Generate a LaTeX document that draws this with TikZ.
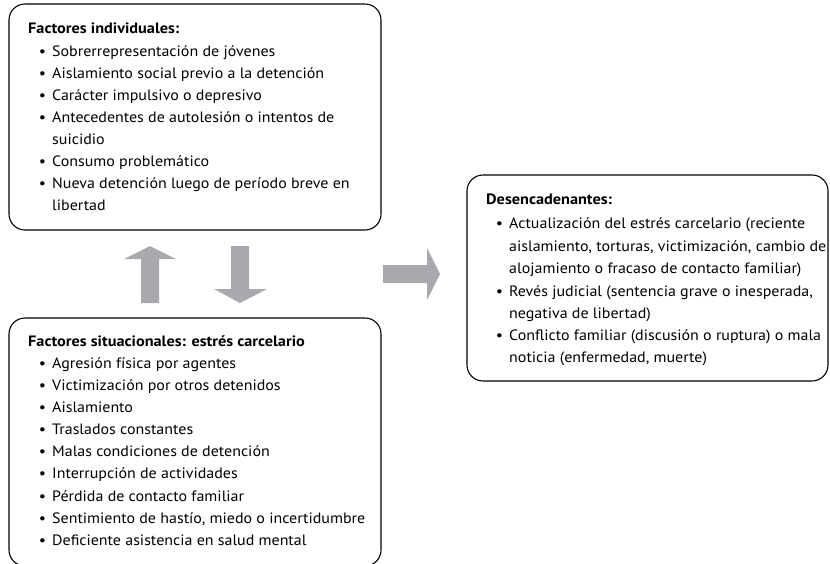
\documentclass[tikz,border=0pt]{standalone}
\usepackage{fontspec}
\setmainfont{PT Sans}
\newfontfamily\itemfont{PT Sans}[FakeStretch=1.065]
\newfontfamily\titlefont{PT Sans}[FakeStretch=1.085]
\definecolor{arrowgrey}{HTML}{A7A9AC}
\newcommand{\fsz}{\fontsize{15pt}{18pt}\selectfont}
\newcommand{\bul}{\llap{\textbullet\hspace{6pt}}}
\tikzset{
  box/.style={draw=black, line width=1.1pt, rounded corners=16pt, inner sep=0pt, fill=white},
  ttl/.style={anchor=base west, inner sep=0pt, font=\titlefont\fsz\bfseries},
  itm/.style={anchor=base west, inner sep=0pt, font=\itemfont\fsz},
  blockarrow/.style={fill=arrowgrey, draw=none}
}
\begin{document}
\begin{tikzpicture}[x=1pt,y=-1pt]
\useasboundingbox (0,0) rectangle (830,563);
% boxes
\node[box, minimum width=372pt, minimum height=226pt] (ind) at (195,117) {};
\node[box, minimum width=372pt, minimum height=248pt] (sit) at (195,442) {};
\node[box, minimum width=361pt, minimum height=206pt] (des) at (647.5,278) {};
% top box text
\node[ttl] (t1) at (28,33) {Factores individuales:};
\node[itm] (a1) at (52,56) {\bul Sobrerrepresentación de jóvenes};
\node[itm] (a2) at (52,78) {\bul Aislamiento social previo a la detención};
\node[itm] (a3) at (52,100) {\bul Carácter impulsivo o depresivo};
\node[itm] (a4) at (52,122) {\bul Antecedentes de autolesión o intentos de};
\node[itm] (a5) at (52,144) {suicidio};
\node[itm] (a6) at (52,166) {\bul Consumo problemático};
\node[itm] (a7) at (52,188) {\bul Nueva detención luego de período breve en};
\node[itm] (a8) at (52,210) {libertad};
% bottom box text
\node[ttl] (t2) at (28,346) {Factores situacionales: estrés carcelario};
\node[itm] (b1) at (52,368) {\bul Agresión física por agentes};
\node[itm] (b2) at (52,390) {\bul Victimización por otros detenidos};
\node[itm] (b3) at (52,412) {\bul Aislamiento};
\node[itm] (b4) at (52,434.5) {\bul Traslados constantes};
\node[itm] (b5) at (52,456.5) {\bul Malas condiciones de detención};
\node[itm] (b6) at (52,478.5) {\bul Interrupción de actividades};
\node[itm] (b7) at (52,501) {\bul Pérdida de contacto familiar};
\node[itm] (b8) at (52,523) {\bul Sentimiento de hastío, miedo o incertidumbre};
\node[itm] (b9) at (52,545) {\bul Deficiente asistencia en salud mental};
% right box text
\node[ttl] (t3) at (486,204) {Desencadenantes:};
\node[itm] (c1) at (509,228) {\bul Actualización del estrés carcelario (reciente};
\node[itm] (c2) at (509,251) {aislamiento, torturas, victimización, cambio de};
\node[itm] (c3) at (509,273) {alojamiento o fracaso de contacto familiar)};
\node[itm] (c4) at (509,296) {\bul Revés judicial (sentencia grave o inesperada,};
\node[itm] (c5) at (509,318) {negativa de libertad)};
\node[itm] (c6) at (509,340) {\bul Conflicto familiar (discusión o ruptura) o mala};
\node[itm] (c7) at (509,362) {noticia (enfermedad, muerte)};
% block arrows
\fill[blockarrow] (141,303) -- (141,259) -- (124,259) -- (150,246) -- (176,259) -- (159,259) -- (159,303) -- cycle;
\fill[blockarrow] (231,246) -- (249,246) -- (249,289) -- (267,289) -- (240,303) -- (214,289) -- (231,289) -- cycle;
\fill[blockarrow] (383,265) -- (427,265) -- (427,248) -- (440,274) -- (427,300) -- (427,283) -- (383,283) -- cycle;
\end{tikzpicture}
\end{document}
